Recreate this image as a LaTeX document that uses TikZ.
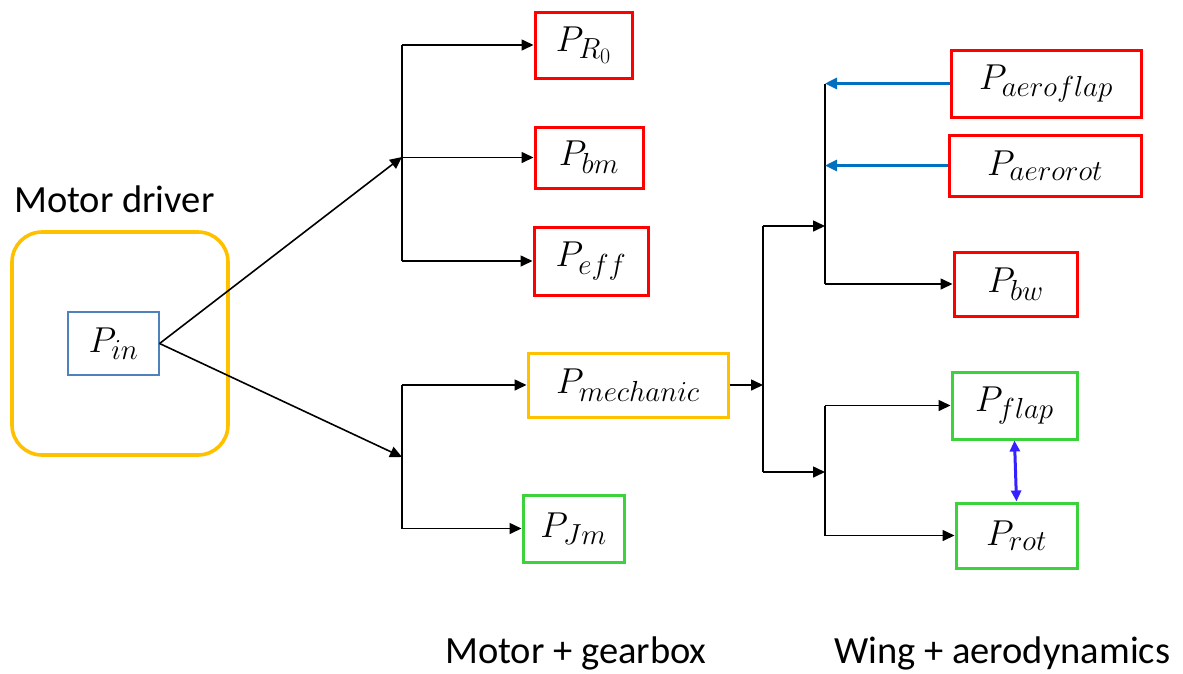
\RequirePackage{fix-cm}
\documentclass[tikz,border=0pt]{standalone}
\usepackage{fontspec}
\newfontfamily\calibri{Carlito}
\usetikzlibrary{arrows.meta, positioning}
\DeclareMathSizes{36}{36}{29}{22}
\definecolor{drvyellow}{HTML}{FFC000}
\definecolor{inblue}{HTML}{4F81BD}
\definecolor{storegreen}{HTML}{3CD23C}
\definecolor{aeroblue}{HTML}{0070C0}
\definecolor{xchgblue}{HTML}{3322FF}

\begin{document}
\begin{tikzpicture}[
    x=1pt, y=-1pt,
    pbox/.style={draw, rectangle, inner sep=0pt, font=\fontsize{36}{42}\selectfont},
    loss/.style={pbox, draw=red, line width=3pt},
    store/.style={pbox, draw=storegreen, line width=3pt},
    mech/.style={pbox, draw=drvyellow, line width=3pt},
    flow/.style={-{Triangle[length=12pt, width=11pt]}, line width=1.6pt},
    bus/.style={line width=1.6pt},
    aero/.style={-{Triangle[length=12pt, width=11pt]}, aeroblue, line width=2.8pt},
    xchg/.style={{Triangle[length=11pt, width=10pt]}-{Triangle[length=11pt, width=10pt]},
                 xchgblue, line width=3pt},
    lbl/.style={font=\calibri\fontsize{38.5}{44}\selectfont, inner sep=0pt, anchor=base west},
]
\useasboundingbox (0,0) rectangle (1183,673);

\def\xup{402}    % x of the motor buses
\def\xwing{763}  % x of the wing input bus
\def\xaero{825}  % x of the aero / inertia buses

% --- motor driver ---
\node[lbl] (drvlbl) at (14,212) {Motor driver};
\node[draw=drvyellow, line width=3.6pt, rounded corners=30pt,
      minimum width=216pt, minimum height=223pt] (drv) at (120,343.5) {};
\node[pbox, draw=inblue, line width=1.2pt, minimum width=91pt, minimum height=63pt]
      (pin) at (113.5,343.5) {$P_{in}$};

% --- motor + gearbox ---
\node[loss, minimum width=97pt,  minimum height=66pt] (pr0)  at (583.5,45)   {$P_{R_0}$};
\node[loss, minimum width=108pt, minimum height=61pt] (pbm)  at (589,157.5)  {$P_{bm}$};
\node[loss, minimum width=114pt, minimum height=68pt] (peff) at (591,261)    {$P_{eff}$};
\node[mech, minimum width=200pt, minimum height=64pt] (pmech) at (628,385)   {$P_{mechanic}$};
\node[store, minimum width=101pt, minimum height=67pt] (pjm) at (573.5,528.5) {$P_{Jm}$};

% --- wing + aerodynamics ---
\node[loss, minimum width=190pt, minimum height=67pt] (paflap) at (1046,83.5)  {$P_{aeroflap}$};
\node[loss, minimum width=192pt, minimum height=61pt] (parot)  at (1045,165.5) {$P_{aerorot}$};
\node[loss, minimum width=123pt, minimum height=64pt] (pbw)    at (1015.5,284) {$P_{bw}$};
\node[store, minimum width=125pt, minimum height=67pt] (pflap) at (1014.5,405.5) {$P_{flap}$};
\node[store, minimum width=121pt, minimum height=65pt] (prot)  at (1016.5,535.5) {$P_{rot}$};

% bus junctions
\coordinate (upbus)  at (\xup,157);
\coordinate (lowbus) at (\xup,457);
\coordinate (wtop)   at (\xwing,226);
\coordinate (wbot)   at (\xwing,472);
\coordinate (abus)   at (\xaero,226);
\coordinate (sbus)   at (\xaero,472);

% driver to motor
\draw[flow] (pin.east) -- (upbus);
\draw[flow] (pin.east) -- (lowbus);

% motor buses
\draw[bus] (pr0 -| upbus) -- (peff -| upbus);
\draw[flow] (pr0 -| upbus)  -- (pr0.west);
\draw[flow] (pbm -| upbus)  -- (pbm.west);
\draw[flow] (peff -| upbus) -- (peff.west);
\draw[bus] (pmech -| lowbus) -- (pjm -| lowbus);
\draw[flow] (pmech -| lowbus) -- (pmech.west);
\draw[flow] (pjm -| lowbus)   -- (pjm.west);

% mechanic power to the wing
\draw[flow] (pmech.east) -- (pmech -| wtop);
\draw[bus] (wtop) -- (wbot);
\draw[flow] (wtop) -- (abus);
\draw[flow] (wbot) -- (sbus);

% aero bus
\draw[bus] (paflap -| abus) -- (pbw -| abus);
\draw[aero] (paflap.west) -- (paflap -| abus);
\draw[aero] (parot.west)  -- (parot -| abus);
\draw[flow] (pbw -| abus) -- (pbw.west);

% inertia bus
\draw[bus] (pflap -| sbus) -- (prot -| sbus);
\draw[flow] (pflap -| sbus) -- (pflap.west);
\draw[flow] (prot -| sbus)  -- (prot.west);
\draw[xchg] (pflap.south) -- (prot.north);

% group labels
\node[lbl] (mglbl) at (445,663) {Motor + gearbox};
\node[lbl] (wglbl) at (834,663) {Wing + aerodynamics};
\end{tikzpicture}
\end{document}
